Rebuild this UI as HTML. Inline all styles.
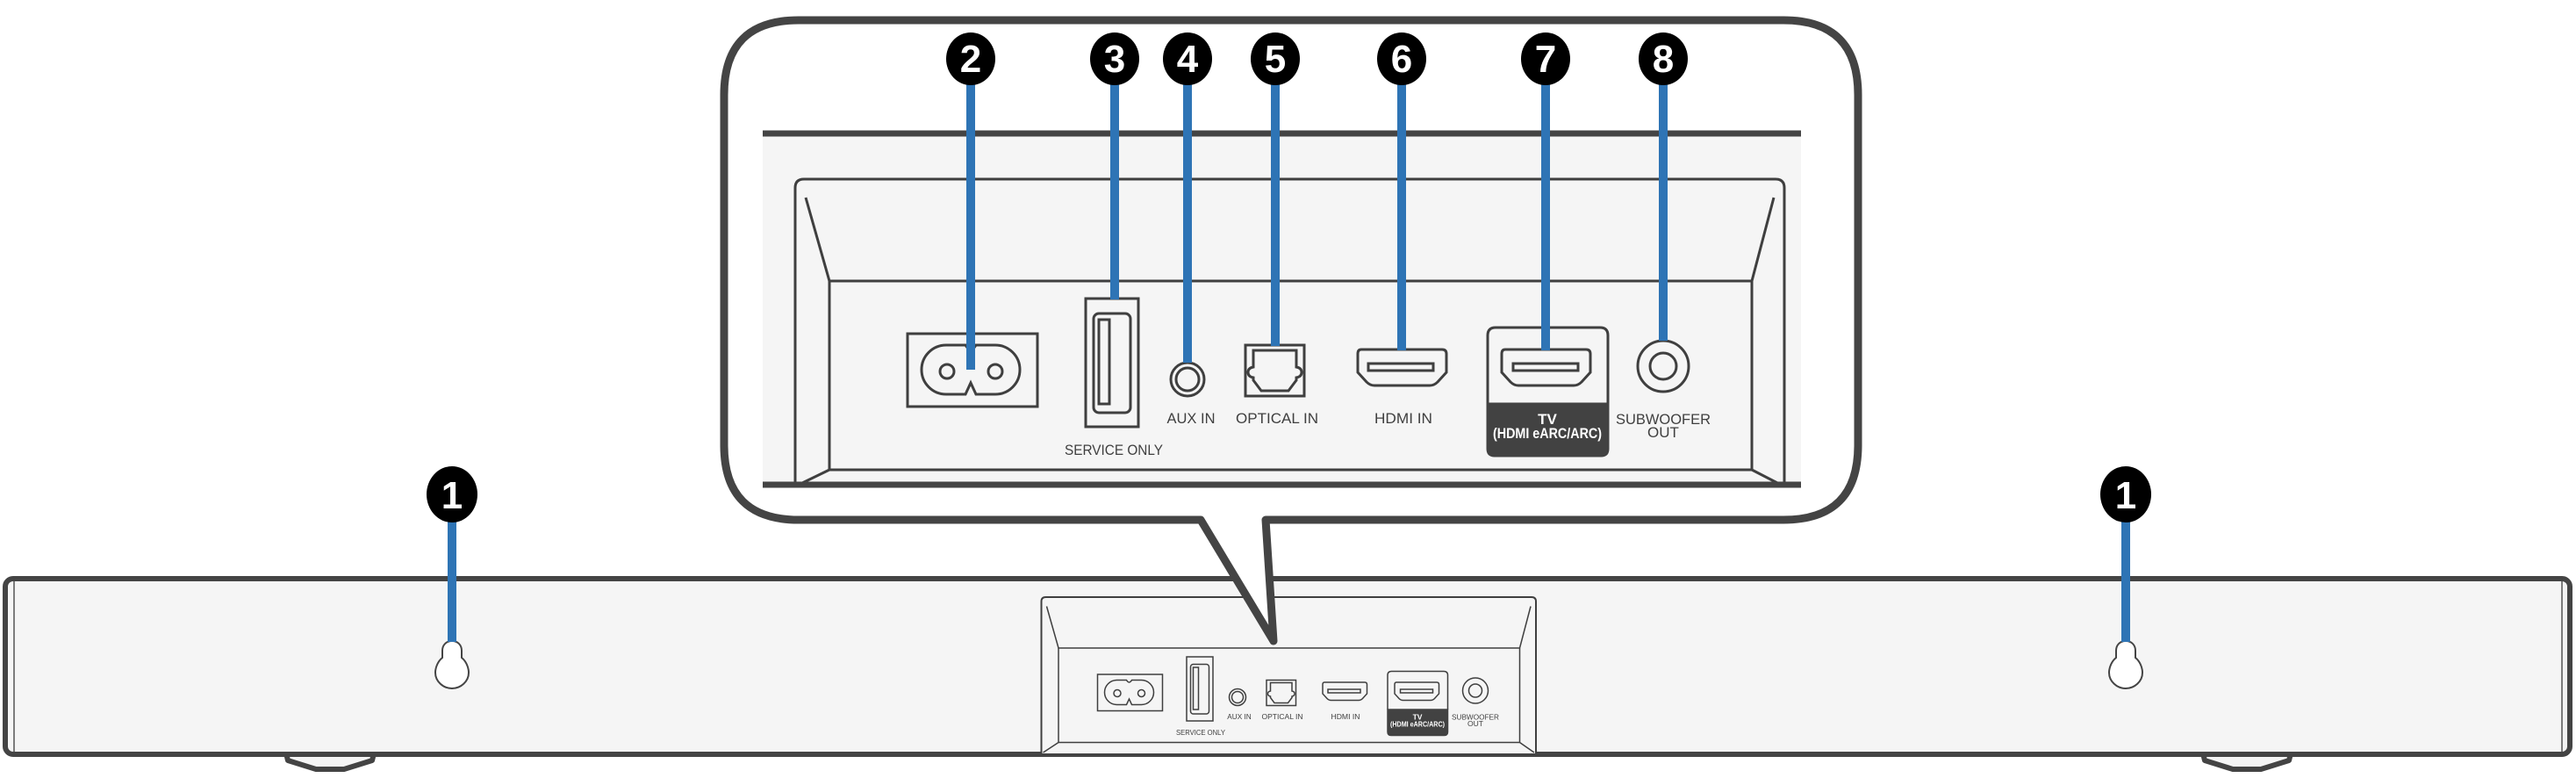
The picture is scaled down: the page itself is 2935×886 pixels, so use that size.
<!DOCTYPE html>
<html><head><meta charset="utf-8"><style>html,body{margin:0;padding:0;background:#fff}svg{display:block}</style></head>
<body>
<svg width="2935" height="886" viewBox="0 0 2935 886" xmlns="http://www.w3.org/2000/svg" font-family="Liberation Sans, sans-serif">
<defs>
<style>
.o{fill:none;stroke:#3f3f3f;stroke-width:3}
.t{fill:#3f3f3f;font-size:17px}
.w{fill:#fff;font-size:17px;font-weight:bold}
.b{stroke:#2e74b5;stroke-width:10}
.n{fill:#fff;font-size:44px;font-weight:bold;text-anchor:middle}
</style>
</defs>
<!-- soundbar -->
<path d="M326,858 L328,866 L360,876 L392,876 L424,866 L426,858 Z" fill="#f5f5f5" stroke="#444" stroke-width="6" stroke-linejoin="round"/>
<path d="M2510,858 L2512,866 L2544,876 L2576,876 L2608,866 L2610,858 Z" fill="#f5f5f5" stroke="#444" stroke-width="6" stroke-linejoin="round"/>
<rect x="6" y="659" width="2922" height="200" rx="9" fill="#f5f5f5" stroke="#444" stroke-width="6"/>
<line x1="16" y1="662" x2="16" y2="856" stroke="#555" stroke-width="1.5"/>
<line x1="2919" y1="662" x2="2919" y2="856" stroke="#555" stroke-width="1.5"/>
<!-- keyholes -->
<g id="k1"><path d="M515,730 C508,730 504,735 504,741 L504,749 C499,753 496,760 496,766 C496,776 505,784 515,784 C525,784 534,776 534,766 C534,760 531,753 526,749 L526,741 C526,735 522,730 515,730 Z" fill="#fff" stroke="#444" stroke-width="2"/></g>
<path d="M2422,730 C2415,730 2411,735 2411,741 L2411,749 C2406,753 2403,760 2403,766 C2403,776 2412,784 2422,784 C2432,784 2441,776 2441,766 C2441,760 2438,753 2433,749 L2433,741 C2433,735 2429,730 2422,730 Z" fill="#fff" stroke="#444" stroke-width="2"/>
<line class="b" x1="515" y1="590" x2="515" y2="731"/>
<line class="b" x1="2422" y1="590" x2="2422" y2="731"/>
<ellipse cx="515" cy="563" rx="29" ry="32" fill="#000"/>
<text class="n" x="515" y="579">1</text>
<ellipse cx="2422" cy="563" rx="29" ry="32" fill="#000"/>
<text class="n" x="2422" y="579">1</text>

<!-- mini panel -->
<g transform="translate(733.5,578) scale(0.5)">
<path d="M906,560 V214 Q906,204 916,204 H2023 Q2033,204 2033,214 V560" fill="#f5f5f5" stroke="#3f3f3f" stroke-width="4"/>
<path d="M918,225 L945,320 H1996 L2021,225" class="o" stroke-width="4"/>
<path d="M945,320 V535 H1996 V320 M945,535 L910,558 M1996,535 L2029,558" class="o" stroke-width="4"/>
<g id="ports">
<rect x="1034" y="380" width="148" height="83" class="o"/>
<path d="M1100,393 H1078 A28,28 0 0 0 1078,449 H1100 L1106,436 L1112,449 H1134 A28,28 0 0 0 1134,393 H1112 Q1106,403 1100,393 Z" class="o"/>
<circle cx="1079" cy="423" r="8" class="o" stroke-width="2.5"/>
<circle cx="1134" cy="423" r="8" class="o" stroke-width="2.5"/>
<rect x="1237" y="340" width="60" height="146" class="o"/>
<rect x="1246" y="357" width="42" height="113" rx="6" class="o" stroke-width="2.5"/>
<rect x="1252" y="364" width="12" height="96" class="o" stroke-width="2.5"/>
<circle cx="1353" cy="432" r="19" class="o"/>
<circle cx="1353" cy="432" r="13" class="o" stroke-width="2.5"/>
<rect x="1419" y="393" width="67" height="58" class="o"/>
<path d="M1428,399 H1477 V418 Q1483,419 1483,424 Q1483,429 1477,430 V433 L1468,445 H1437 L1428,433 V430 Q1422,429 1422,424 Q1422,419 1428,418 Z" class="o" stroke-width="2.5"/>
<path d="M1551,398 H1643 Q1648,398 1648,403 V424 L1638,435 Q1634,439 1629,439 H1566 Q1561,439 1557,435 L1547,424 V403 Q1547,398 1551,398 Z" class="o"/>
<rect x="1559" y="414" width="74" height="8" class="o" stroke-width="2.5"/>
<path d="M1695,460 V382 Q1695,373 1704,373 H1823 Q1832,373 1832,382 V460" class="o"/>
<path d="M1695,460 H1832 V511 Q1832,519 1824,519 H1703 Q1695,519 1695,511 Z" fill="#424242" stroke="#424242" stroke-width="3"/>
<path d="M1715,398 H1807 Q1812,398 1812,403 V424 L1802,435 Q1798,439 1793,439 H1730 Q1725,439 1721,435 L1711,424 V403 Q1711,398 1715,398 Z" class="o"/>
<rect x="1724" y="414" width="74" height="8" class="o" stroke-width="2.5"/>
<circle cx="1895" cy="417" r="29" class="o"/>
<circle cx="1895" cy="417" r="15" class="o" stroke-width="2.5"/>
<text class="t" x="1269" y="518" text-anchor="middle" textLength="112" lengthAdjust="spacingAndGlyphs">SERVICE ONLY</text>
<text class="t" x="1357" y="482" text-anchor="middle" textLength="55" lengthAdjust="spacingAndGlyphs">AUX IN</text>
<text class="t" x="1455" y="482" text-anchor="middle" textLength="94" lengthAdjust="spacingAndGlyphs">OPTICAL IN</text>
<text class="t" x="1599" y="482" text-anchor="middle" textLength="66" lengthAdjust="spacingAndGlyphs">HDMI IN</text>
<text class="w" x="1763" y="483" text-anchor="middle">TV</text>
<text class="w" x="1763" y="499" text-anchor="middle" font-size="15" textLength="124" lengthAdjust="spacingAndGlyphs">(HDMI eARC/ARC)</text>
<text class="t" x="1895" y="483" text-anchor="middle" textLength="108" lengthAdjust="spacingAndGlyphs">SUBWOOFER</text>
<text class="t" x="1895" y="498" text-anchor="middle">OUT</text>
</g>
</g>

<!-- callout -->
<path d="M910,23 H2032 Q2117,23 2117,108 V507 Q2117,592 2032,592 H1442 L1451,730 L1368,592 H910 Q825,592 825,507 V108 Q825,23 910,23 Z" fill="#fff" stroke="#444" stroke-width="9" stroke-linejoin="round"/>
<rect x="869" y="152" width="1183" height="400" fill="#f5f5f5"/>
<line x1="869" y1="152" x2="2052" y2="152" stroke="#444" stroke-width="7"/>
<path d="M906,552 V214 Q906,204 916,204 H2023 Q2033,204 2033,214 V552" class="o"/>
<path d="M918,225 L945,320 H1996 L2021,225" class="o"/>
<path d="M945,320 V535 H1996 V320 M945,535 L910,552 M1996,535 L2029,552" class="o"/>
<line x1="869" y1="552" x2="2052" y2="552" stroke="#444" stroke-width="7"/>
<rect x="1034" y="380" width="148" height="83" class="o"/>
<path d="M1100,393 H1078 A28,28 0 0 0 1078,449 H1100 L1106,436 L1112,449 H1134 A28,28 0 0 0 1134,393 H1112 Q1106,403 1100,393 Z" class="o"/>
<circle cx="1079" cy="423" r="8" class="o" stroke-width="2.5"/>
<circle cx="1134" cy="423" r="8" class="o" stroke-width="2.5"/>
<rect x="1237" y="340" width="60" height="146" class="o"/>
<rect x="1246" y="357" width="42" height="113" rx="6" class="o" stroke-width="2.5"/>
<rect x="1252" y="364" width="12" height="96" class="o" stroke-width="2.5"/>
<circle cx="1353" cy="432" r="19" class="o"/>
<circle cx="1353" cy="432" r="13" class="o" stroke-width="2.5"/>
<rect x="1419" y="393" width="67" height="58" class="o"/>
<path d="M1428,399 H1477 V418 Q1483,419 1483,424 Q1483,429 1477,430 V433 L1468,445 H1437 L1428,433 V430 Q1422,429 1422,424 Q1422,419 1428,418 Z" class="o" stroke-width="2.5"/>
<path d="M1551,398 H1643 Q1648,398 1648,403 V424 L1638,435 Q1634,439 1629,439 H1566 Q1561,439 1557,435 L1547,424 V403 Q1547,398 1551,398 Z" class="o"/>
<rect x="1559" y="414" width="74" height="8" class="o" stroke-width="2.5"/>
<path d="M1695,460 V382 Q1695,373 1704,373 H1823 Q1832,373 1832,382 V460" class="o"/>
<path d="M1695,460 H1832 V511 Q1832,519 1824,519 H1703 Q1695,519 1695,511 Z" fill="#424242" stroke="#424242" stroke-width="3"/>
<path d="M1715,398 H1807 Q1812,398 1812,403 V424 L1802,435 Q1798,439 1793,439 H1730 Q1725,439 1721,435 L1711,424 V403 Q1711,398 1715,398 Z" class="o"/>
<rect x="1724" y="414" width="74" height="8" class="o" stroke-width="2.5"/>
<circle cx="1895" cy="417" r="29" class="o"/>
<circle cx="1895" cy="417" r="15" class="o" stroke-width="2.5"/>
<text class="t" x="1269" y="518" text-anchor="middle" textLength="112" lengthAdjust="spacingAndGlyphs">SERVICE ONLY</text>
<text class="t" x="1357" y="482" text-anchor="middle" textLength="55" lengthAdjust="spacingAndGlyphs">AUX IN</text>
<text class="t" x="1455" y="482" text-anchor="middle" textLength="94" lengthAdjust="spacingAndGlyphs">OPTICAL IN</text>
<text class="t" x="1599" y="482" text-anchor="middle" textLength="66" lengthAdjust="spacingAndGlyphs">HDMI IN</text>
<text class="w" x="1763" y="483" text-anchor="middle">TV</text>
<text class="w" x="1763" y="499" text-anchor="middle" font-size="15" textLength="124" lengthAdjust="spacingAndGlyphs">(HDMI eARC/ARC)</text>
<text class="t" x="1895" y="483" text-anchor="middle" textLength="108" lengthAdjust="spacingAndGlyphs">SUBWOOFER</text>
<text class="t" x="1895" y="498" text-anchor="middle">OUT</text>

<!-- leader lines -->
<line class="b" x1="1106" y1="90" x2="1106" y2="421"/>
<line class="b" x1="1270" y1="90" x2="1270" y2="341"/>
<line class="b" x1="1353" y1="90" x2="1353" y2="413"/>
<line class="b" x1="1453" y1="90" x2="1453" y2="394"/>
<line class="b" x1="1597" y1="90" x2="1597" y2="399"/>
<line class="b" x1="1761" y1="90" x2="1761" y2="399"/>
<line class="b" x1="1895" y1="90" x2="1895" y2="388"/>
<!-- badges -->
<g>
<ellipse cx="1106" cy="67" rx="28" ry="30" fill="#000"/><text class="n" x="1106" y="82">2</text>
<ellipse cx="1270" cy="67" rx="28" ry="30" fill="#000"/><text class="n" x="1270" y="82">3</text>
<ellipse cx="1353" cy="67" rx="28" ry="30" fill="#000"/><text class="n" x="1353" y="82">4</text>
<ellipse cx="1453" cy="67" rx="28" ry="30" fill="#000"/><text class="n" x="1453" y="82">5</text>
<ellipse cx="1597" cy="67" rx="28" ry="30" fill="#000"/><text class="n" x="1597" y="82">6</text>
<ellipse cx="1761" cy="67" rx="28" ry="30" fill="#000"/><text class="n" x="1761" y="82">7</text>
<ellipse cx="1895" cy="67" rx="28" ry="30" fill="#000"/><text class="n" x="1895" y="82">8</text>
</g>
</svg>
</body></html>
